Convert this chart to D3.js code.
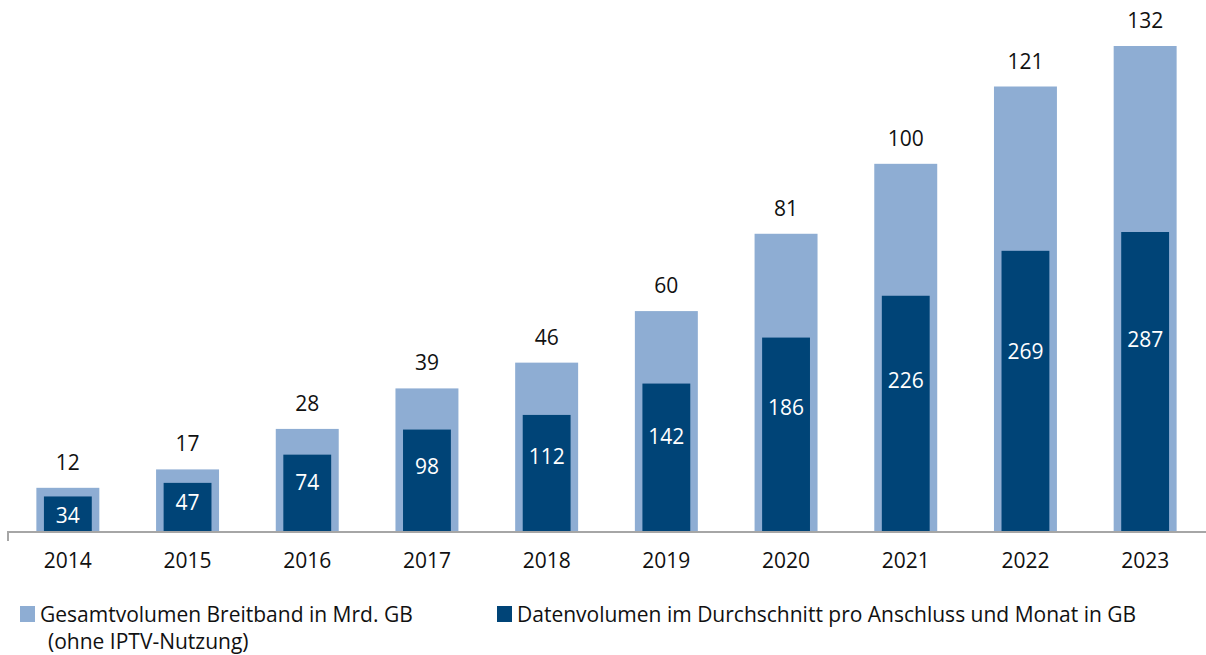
<!DOCTYPE html>
<html>
<head>
<meta charset="utf-8">
<script src="https://cdn.jsdelivr.net/npm/d3@7"></script>
<style>
  body { margin: 0; background: #fff; }
  svg text { font-family: "Open Sans", sans-serif; fill: #111; }
</style>
</head>
<body>
<svg id="chart" width="1206" height="655"></svg>
<script>
const years = ["2014", "2015", "2016", "2017", "2018", "2019", "2020", "2021", "2022", "2023"];
const gesamtVolumen = [12, 17, 28, 39, 46, 60, 81, 100, 121, 132];
const proAnschluss = [34, 47, 74, 98, 112, 142, 186, 226, 269, 287];
const legendLabels = [
  ["Gesamtvolumen Breitband in Mrd. GB", "(ohne IPTV-Nutzung)"],
  ["Datenvolumen im Durchschnitt pro Anschluss und Monat in GB"]
];

const lightBlue = "#8eadd3";
const darkBlue = "#004477";

const svg = d3.select("#chart");
const baseline = 532;

const x = d3.scaleBand()
    .domain(years)
    .range([8, 1205])
    .paddingInner(0.474)
    .paddingOuter(0.237);

const yLight = d3.scaleLinear()
    .domain([0, 132])
    .range([baseline, 46]);

const yDark = d3.scaleLinear()
    .domain([0, 287])
    .range([baseline, 232]);

const data = years.map((yr, i) => ({ year: yr, total: gesamtVolumen[i], avg: proAnschluss[i] }));

const darkWidth = x.bandwidth() * 0.76;

// light bars
svg.selectAll("rect.total")
    .data(data)
    .enter()
    .append("rect")
    .attr("class", "total")
    .attr("x", d => x(d.year))
    .attr("y", d => yLight(d.total))
    .attr("width", x.bandwidth())
    .attr("height", d => baseline - yLight(d.total))
    .style("fill", lightBlue);

// dark bars
svg.selectAll("rect.avg")
    .data(data)
    .enter()
    .append("rect")
    .attr("class", "avg")
    .attr("x", d => x(d.year) + (x.bandwidth() - darkWidth) / 2)
    .attr("y", d => yDark(d.avg))
    .attr("width", darkWidth)
    .attr("height", d => baseline - yDark(d.avg))
    .style("fill", darkBlue);

// labels above light bars
svg.selectAll("text.total")
    .data(data)
    .enter()
    .append("text")
    .attr("class", "total")
    .attr("x", d => x(d.year) + x.bandwidth() / 2)
    .attr("y", d => yLight(d.total) - 26)
    .attr("text-anchor", "middle")
    .attr("dominant-baseline", "central")
    .style("font-size", "21px")
    .text(d => d.total);

// labels inside dark bars
svg.selectAll("text.avg")
    .data(data)
    .enter()
    .append("text")
    .attr("class", "avg")
    .attr("x", d => x(d.year) + x.bandwidth() / 2)
    .attr("y", d => Math.max(yDark(d.avg) + 19, yDark(d.avg * 0.645)))
    .attr("text-anchor", "middle")
    .attr("dominant-baseline", "central")
    .style("font-size", "21px")
    .style("fill", "#fff")
    .text(d => d.avg);

// axis
const axis = svg.append("g")
    .attr("transform", `translate(0,${baseline})`)
    .call(d3.axisBottom(x).tickSize(0).tickPadding(21));
axis.select(".domain").remove();
axis.selectAll("text")
    .style("font-size", "21px")
    .style("font-family", "'Open Sans', sans-serif")
    .style("fill", "#111");

svg.append("path")
    .attr("d", `M8,${baseline + 9}V${baseline}H1206`)
    .style("fill", "none")
    .style("stroke", "#a6a6a6")
    .style("stroke-width", 2);

// legend
const legendX = [20, 497];
legendLabels.forEach((lines, i) => {
  const g = svg.append("g").attr("transform", `translate(${legendX[i]},606)`);
  g.append("rect")
      .attr("width", 15)
      .attr("height", 16)
      .style("fill", i === 0 ? lightBlue : darkBlue);
  lines.forEach((line, j) => {
    g.append("text")
        .attr("x", j === 0 ? 20 : 28)
        .attr("y", 8 + j * 27)
        .attr("dominant-baseline", "central")
        .style("font-size", "21px")
        .text(line);
  });
});
</script>
</body>
</html>
